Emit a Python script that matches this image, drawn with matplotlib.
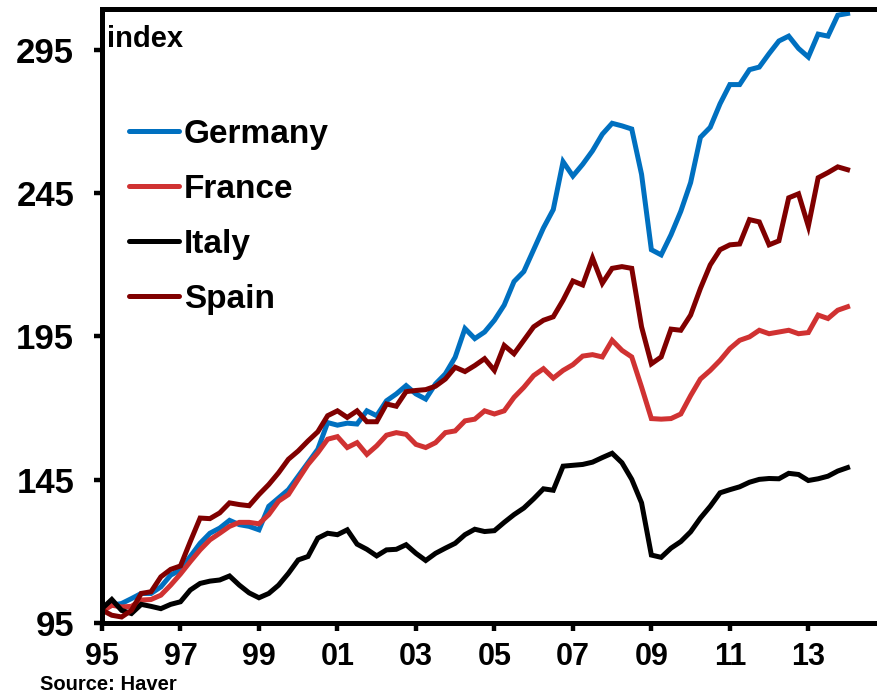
import matplotlib
matplotlib.use("Agg")
import matplotlib.pyplot as plt
import numpy as np

plt.rcParams["font.family"] = ["Liberation Sans", "DejaVu Sans"]
plt.rcParams["font.weight"] = "bold"

# quarterly index, 1995Q1 .. 2014Q1
germany = [99.5, 101.2, 101.8, 103.5, 105.3, 105.3, 107.6, 111.7, 113.5, 118.2,
           122.8, 126.3, 128.1, 130.8, 129.3, 128.7, 127.5, 135.7, 138.6, 141.5,
           146.2, 150.9, 155.6, 164.9, 164.0, 164.7, 164.4, 169.0, 167.3, 172.5,
           174.9, 177.8, 174.9, 173.1, 178.4, 181.9, 187.7, 197.7, 194.2, 196.5,
           200.6, 205.9, 214.1, 217.6, 225.2, 232.8, 239.2, 255.9, 250.9, 255.0,
           259.7, 265.5, 269.3, 268.4, 267.3, 251.5, 225.2, 223.4, 230.4, 238.6,
           248.6, 264.4, 267.9, 276.1, 282.8, 282.8, 288.0, 288.9, 293.6, 298.0,
           299.7, 295.4, 292.4, 300.4, 299.7, 307.0, 307.6]
france = [99.0, 101.2, 100.6, 100.8, 103.0, 103.2, 104.7, 108.2, 112.1, 116.4,
          120.5, 124.0, 126.3, 128.7, 130.1, 130.1, 129.6, 132.8, 137.5, 139.8,
          145.1, 150.3, 154.4, 159.1, 160.0, 156.2, 157.9, 153.8, 156.8, 160.5,
          161.4, 160.8, 157.3, 156.2, 157.9, 161.4, 162.0, 165.5, 166.1, 169.0,
          167.9, 169.0, 173.7, 177.2, 181.3, 183.7, 180.4, 183.1, 185.1, 188.1,
          188.6, 187.8, 193.6, 190.1, 187.8, 177.3, 166.3, 166.1, 166.3, 167.9,
          174.3, 180.1, 183.1, 186.6, 190.7, 193.6, 194.8, 197.1, 195.9, 196.5,
          197.1, 195.9, 196.3, 202.4, 201.2, 204.1, 205.3]
italy = [100.0, 103.2, 99.4, 98.3, 101.5, 100.8, 100.0, 101.5, 102.4, 106.5,
         108.8, 109.6, 110.0, 111.4, 108.2, 105.5, 103.8, 105.3, 108.2, 112.3,
         117.0, 118.2, 124.6, 126.3, 125.8, 127.5, 122.5, 120.7, 118.4, 120.5,
         120.7, 122.3, 119.3, 116.8, 119.3, 121.1, 122.8, 125.8, 127.7, 126.9,
         127.2, 130.1, 132.8, 135.1, 138.3, 141.8, 141.3, 149.7, 150.0, 150.3,
         151.1, 152.7, 154.2, 150.9, 145.1, 136.9, 118.7, 117.9, 121.1, 123.4,
         126.8, 131.6, 135.7, 140.4, 141.5, 142.5, 144.1, 145.1, 145.4, 145.3,
         147.2, 146.8, 144.7, 145.3, 146.2, 148.0, 149.2]
spain = [99.5, 97.7, 97.1, 99.4, 105.3, 105.9, 111.1, 113.7, 114.9, 123.4,
         131.6, 131.4, 133.4, 136.9, 136.3, 135.9, 139.8, 143.3, 147.4, 152.1,
         155.0, 158.5, 161.7, 167.3, 169.0, 166.7, 169.0, 165.2, 165.2, 171.4,
         170.6, 175.7, 176.1, 176.4, 177.6, 180.1, 184.2, 182.7, 184.8, 187.2,
         183.1, 191.8, 188.9, 193.6, 198.3, 200.6, 201.8, 207.6, 214.3, 212.9,
         222.3, 213.5, 218.7, 219.3, 218.7, 198.3, 185.4, 187.8, 197.5, 197.1,
         202.4, 211.7, 219.9, 225.2, 226.9, 227.2, 235.7, 234.9, 226.9, 228.3,
         243.3, 244.7, 233.4, 250.3, 252.1, 254.1, 253.1]

names = ["Germany", "France", "Italy", "Spain"]
colors = ["#0070C0", "#D03232", "#000000", "#800000"]
year_ticks = list(range(1995, 2014, 2))
y_ticks = [95, 145, 195, 245, 295]

x = 1995 + np.arange(len(germany)) / 4.0

fig = plt.figure(figsize=(8.77, 6.96), dpi=100)
ax = fig.add_axes([0.1163, 0.1049, 0.8837, 0.8815])

for name, vals, c in zip(names, [germany, france, italy, spain], colors):
    ax.plot(x, vals, color=c, lw=3.6, label=name, solid_joinstyle="miter")

ax.set_xlim(1995, 2014.75)
ax.set_ylim(95, 309)
ax.set_xticks(year_ticks)
ax.set_xticklabels([f"{y % 100:02d}" for y in year_ticks])
ax.set_yticks(y_ticks)

for side in ["left", "bottom", "top"]:
    ax.spines[side].set_linewidth(3.6)
ax.spines["right"].set_visible(False)
ax.tick_params(axis="y", length=6, width=3.2, pad=14, labelsize=25)
ax.tick_params(axis="x", length=6, width=3.2, pad=8, labelsize=22)

ax.text(0.006, 0.975, "index", transform=ax.transAxes, fontsize=21,
        fontweight="bold", va="top", ha="left")

leg = ax.legend(loc="upper left", bbox_to_anchor=(0.035, 0.822), frameon=False,
                fontsize=24, handlelength=1.5, handletextpad=0.15,
                labelspacing=0.72, borderpad=0, borderaxespad=0)
for ln in leg.get_lines():
    ln.set_linewidth(3.6)
    ln.set_solid_capstyle("round")

fig.text(40 / 877, 1 - 690 / 696, "Source: Haver", fontsize=14.5,
         fontweight="bold", ha="left", va="baseline")

fig.savefig("out.png", dpi=100)
